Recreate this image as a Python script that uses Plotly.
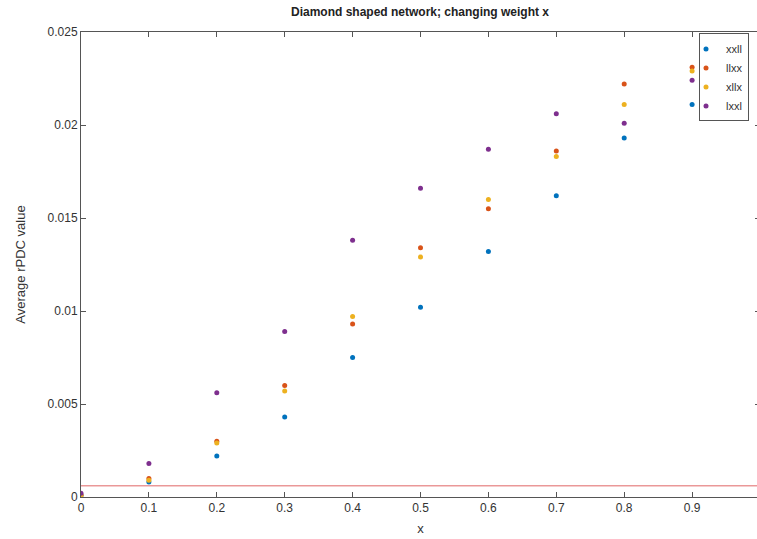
import plotly.graph_objects as go

x_vals = [0.0, 0.1, 0.2, 0.3, 0.4, 0.5, 0.6, 0.7, 0.8, 0.9]
xxll = [0.0001, 0.0008, 0.0022, 0.0043, 0.0075, 0.0102, 0.0132, 0.0162, 0.0193, 0.0211]
llxx = [0.0001, 0.0010, 0.0030, 0.0060, 0.0093, 0.0134, 0.0155, 0.0186, 0.0222, 0.0231]
xllx = [0.0001, 0.0009, 0.0029, 0.0057, 0.0097, 0.0129, 0.0160, 0.0183, 0.0211, 0.0229]
lxxl = [0.0002, 0.0018, 0.0056, 0.0089, 0.0138, 0.0166, 0.0187, 0.0206, 0.0201, 0.0224]
threshold = 0.0006

series = [
    ("xxll", xxll, "#0072BD"),
    ("llxx", llxx, "#D95319"),
    ("xllx", xllx, "#EDB120"),
    ("lxxl", lxxl, "#7E2F8E"),
]

fig = go.Figure()
for name, vals, col in series:
    fig.add_trace(go.Scatter(x=x_vals, y=vals, mode="markers", name=name,
                             marker=dict(color=col, size=5)))
fig.add_trace(go.Scatter(x=[0, 1], y=[threshold, threshold], mode="lines",
                         line=dict(color="#E06666", width=1), showlegend=False,
                         hoverinfo="skip"))

font_family = "Liberation Sans, Arial, sans-serif"
axis_common = dict(showline=True, linecolor="#555555", linewidth=1, mirror="ticks",
                   ticks="inside", ticklen=5, tickcolor="#555555", showgrid=False,
                   zeroline=False, automargin=False,
                   tickfont=dict(size=12, color="#333333"))

W = 760
fig.update_layout(
    width=W, height=539,
    margin=dict(l=81, r=0, t=32, b=42),
    paper_bgcolor="white", plot_bgcolor="white",
    font=dict(family=font_family, color="#333333"),
    title=dict(text="<b>Diamond shaped network; changing weight x</b>",
               x=420 / W, xanchor="center",
               y=1 - 8 / 539, yanchor="top", font=dict(size=12, color="#222222")),
    xaxis=dict(range=[0, 1.0], tickvals=[0, 0.1, 0.2, 0.3, 0.4, 0.5, 0.6, 0.7, 0.8, 0.9],
               ticktext=["0", "0.1", "0.2", "0.3", "0.4", "0.5", "0.6", "0.7", "0.8", "0.9"],
               title=dict(text="x", font=dict(size=13), standoff=9), **axis_common),
    yaxis=dict(range=[0, 0.025], tickvals=[0, 0.005, 0.01, 0.015, 0.02, 0.025],
               ticktext=["0", "0.005", "0.01", "0.015", "0.02", "0.025"],
               title=dict(text="Average rPDC value", font=dict(size=13), standoff=19), **axis_common),
    legend=dict(x=(699 - 81) / (W - 81), xanchor="left", y=0.997, yanchor="top", bgcolor="white",
                bordercolor="#555555", borderwidth=1, font=dict(size=11),
                tracegroupgap=0, itemwidth=30, indentation=-14),
    showlegend=True,
)

fig.write_html("out.html", config={"displayModeBar": False},
               post_script="document.body.style.margin='0';document.body.style.overflow='hidden';")
